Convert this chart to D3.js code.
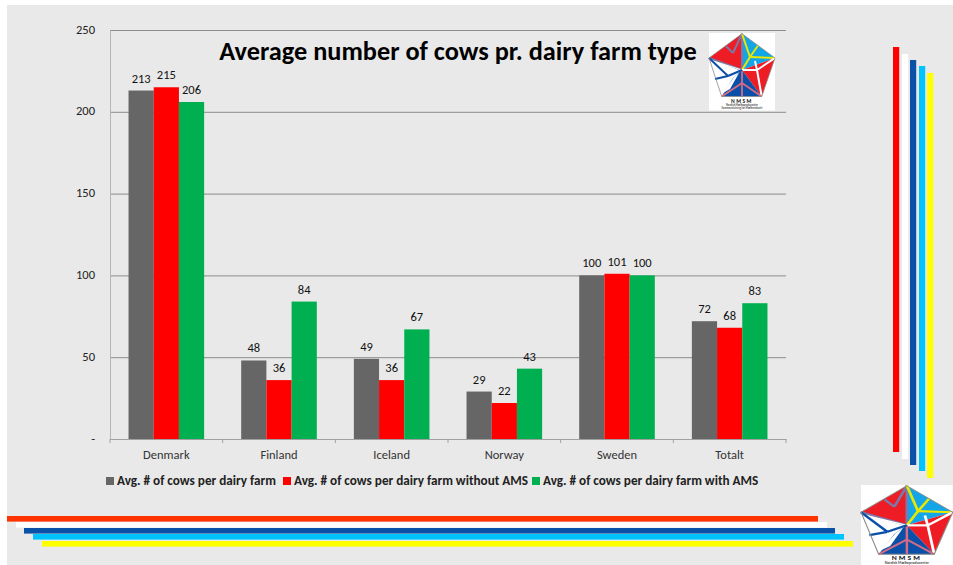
<!DOCTYPE html>
<html><head><meta charset="utf-8">
<script src="https://cdn.jsdelivr.net/npm/d3@7"></script>
<style>html,body{margin:0;padding:0;background:#fff}svg{display:block}text{font-family:Calibri,Carlito,"Open Sans","Liberation Sans",sans-serif}</style>
</head><body><svg id="c" width="953" height="565"></svg>
<script>
const categories=["Denmark","Finland","Iceland","Norway","Sweden","Totalt"];
const seriesNames=["Avg. # of cows per dairy farm","Avg. # of cows per dairy farm without AMS","Avg. # of cows per dairy farm with AMS"];
const allFarms=[213,48,49,29,100,72];
const withoutAms=[215,36,36,22,101,68];
const withAms=[206,84,67,43,100,83];
const seriesValues=[allFarms,withoutAms,withAms];
const seriesColors=["#666666","#ff0000","#00b050"];
const yTicks=[0,50,100,150,200,250];
const title="Average number of cows pr. dairy farm type";

const svg=d3.select("#c");
svg.append("rect").attr("x",7).attr("y",5).attr("width",946).attr("height",560).attr("fill","#e9e9e9");

const x=d3.scaleBand().domain(categories).range([110,786]);
const y=d3.scaleLinear().domain([0,250]).range([439,30]);
const barW=25.2;
const inner=d3.scaleBand().domain([0,1,2]).range([-barW*1.5,barW*1.5]);

svg.append("g").selectAll("line").data(yTicks.slice(1)).join("line")
  .attr("x1",110).attr("x2",786).attr("y1",d=>y(d)+.5).attr("y2",d=>y(d)+.5)
  .attr("stroke","#8c8c8c").attr("stroke-width",1);

const yAxis=d3.axisLeft(y).tickValues(yTicks).tickSize(0).tickPadding(15).tickFormat(d=>d===0?"-":d);
const gy=svg.append("g").attr("transform","translate(110,-1)").call(yAxis);
gy.select(".domain").attr("transform","translate(0,1)").attr("stroke","#b5b5b5");
gy.selectAll("text").attr("font-size",12.5).attr("fill","#222");

const xAxis=d3.axisBottom(x).tickSize(0).tickPadding(11);
const gx=svg.append("g").attr("transform","translate(0,439)").call(xAxis);
gx.select(".domain").attr("stroke","#a0a0a0");
gx.selectAll("text").attr("font-size",12.5).attr("fill","#333");
svg.append("g").selectAll("line").data(categories.concat(["end"])).join("line")
  .attr("x1",(d,i)=>110+i*x.step()).attr("x2",(d,i)=>110+i*x.step())
  .attr("y1",439).attr("y2",443).attr("stroke","#a0a0a0");

seriesValues.forEach((vals,s)=>{
  const g=svg.append("g");
  g.selectAll("rect").data(vals).join("rect")
    .attr("x",(d,i)=>x(categories[i])+x.bandwidth()/2+inner(s))
    .attr("width",inner.bandwidth())
    .attr("y",d=>y(d)).attr("height",d=>439-y(d)).attr("fill",seriesColors[s]);
  g.selectAll("text").data(vals).join("text")
    .attr("x",(d,i)=>x(categories[i])+x.bandwidth()/2+inner(s)+inner.bandwidth()/2)
    .attr("y",d=>y(d)-8).attr("text-anchor","middle")
    .attr("font-size",12.5).attr("fill","#111").text(d=>d);
});

svg.append("text").attr("x",458).attr("y",60).attr("text-anchor","middle")
  .attr("font-size",26.3).attr("font-weight",700).attr("fill","#000").text(title);

// legend
const legendX=[106,283,532];
seriesNames.forEach((n,i)=>{
  svg.append("rect").attr("x",legendX[i]).attr("y",477).attr("width",8).attr("height",8).attr("fill",seriesColors[i]);
  svg.append("text").attr("x",legendX[i]+11).attr("y",485).attr("font-size",13.2).attr("font-weight",700)
    .attr("fill","#222").text(n);
});

// decorative stripes
const stripeColors=["#ff0000","#ffffff","#0a52a8","#00c4ff","#ffff00"];
const vStripes=[[893,47,452],[902,54,459],[910,60,465],[919,66,471],[927,73,478]];
vStripes.forEach((s,i)=>svg.append("rect").attr("x",s[0]).attr("y",s[1]).attr("width",6.2).attr("height",s[2]-s[1]).attr("fill",stripeColors[i]));
const hStripes=[[7,516,818,"#ff3300"],[16,522,827,"#ffffff"],[24,528,835,"#0a52a8"],[33,534,844,"#00c4ff"],[42,541,853,"#ffff00"]];
hStripes.forEach((s,i)=>svg.append("rect").attr("x",s[0]).attr("y",s[1]).attr("width",s[2]-s[0]).attr("height",5.6).attr("fill",s[3]));

// logos
function logo(tx,ty,sx,sy,boxH,captions,nameY){
  const g=svg.append("g").attr("transform",`translate(${tx},${ty}) scale(${sx},${sy})`);
  g.append("rect").attr("width",66).attr("height",boxH).attr("fill","#fff");
  const T=[33,.7],R=[66,25],LR=[52.7,63.5],LL=[12.7,63.5],L=[0,25],C=[33,37],M=[48,37],B=[19,43],Y=[41,24];
  const poly=(p,f)=>g.append("polygon").attr("points",p.join(" ")).attr("fill",f);
  const line=(a,b,c,w)=>g.append("line").attr("x1",a[0]).attr("y1",a[1]).attr("x2",b[0]).attr("y2",b[1]).attr("stroke",c).attr("stroke-width",w);
  poly([T,L,C],"#ee1c25"); poly([T,R,C],"#12a5e8"); poly([R,LR,C],"#ee1c25"); poly([LR,LL,C],"#0a50a8"); poly([LL,L,C],"#ffffff");
  poly([LL,[24,45],C,[26,52]],"#0a50a8");
  poly([[14,60],[25,44],[30,40],[21,56]],"#ffffff");
  [[T,C],[L,C],[[24,20],[17,13.3]],[[24,20],T]].forEach(p=>line(p[0],p[1],"#7d78a8",2));
  line([4,28],C,"#ffffff",1.2);
  [[T,Y],[C,Y],[Y,R],[Y,[49,12.5]]].forEach(p=>line(p[0],p[1],"#e8e800",2));
  [[R,M],[C,M],[M,LR],[M,[46,28]]].forEach(p=>line(p[0],p[1],"#ffffff",2));
  [[C,[33,63]],[[33,50],LL],[[33,50],LR]].forEach(p=>line(p[0],p[1],"#d96a80",1.8));
  [[C,B],[L,B],[B,[6,46]]].forEach(p=>line(p[0],p[1],"#0a50a8",2));
  g.append("polygon").attr("points",[T,R,LR,LL,L].join(" ")).attr("fill","none").attr("stroke","#8a8a8a").attr("stroke-width",.8);
  g.append("text").attr("x",33).attr("y",nameY).attr("text-anchor","middle").attr("font-size",5.5).attr("font-weight",700).attr("letter-spacing",1.5).attr("fill","#222").text("NMSM");
  captions.forEach(c=>g.append("text").attr("x",33).attr("y",c[1]).attr("text-anchor","middle").attr("font-size",2.8).attr("font-weight",700).attr("fill","#555").text(c[0]));
}
logo(709,33,1,1,77.5,[["Nordisk Mælkeproducenter",73],["Sammenslutning for Mælkeindustri",76.3]],70);
logo(861,485,1.39,1.09,73.5,[["Nordisk Mælkeproducenter",72.6]],68.5);
</script></body></html>
